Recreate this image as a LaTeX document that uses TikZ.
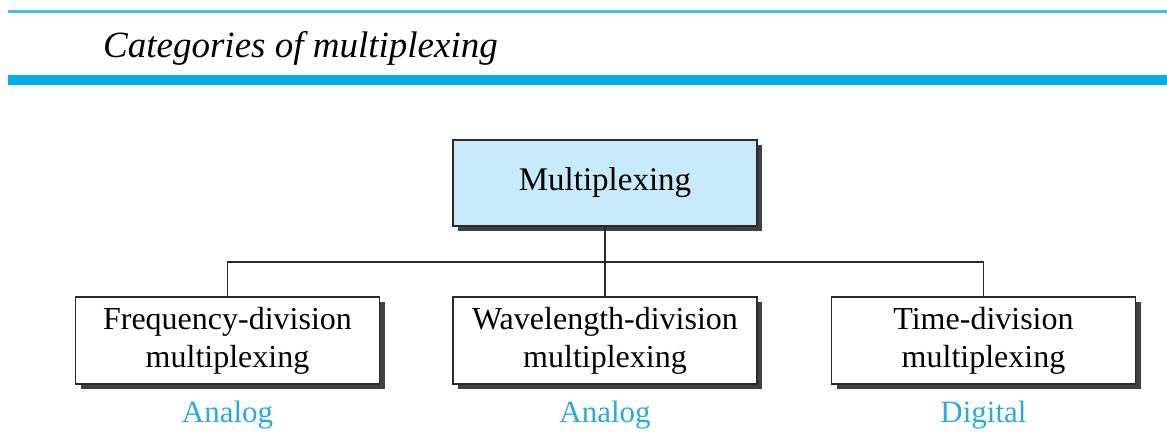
\documentclass[tikz,border=0pt]{standalone}
\usepackage{fontspec}
\setmainfont{Liberation Serif}
\usetikzlibrary{shadows}
\definecolor{rulecyan}{HTML}{00AEEF}
\definecolor{thincyan}{HTML}{3CC0F2}
\definecolor{boxblue}{HTML}{C9EAFB}
\definecolor{labelblue}{HTML}{29ABE2}
\definecolor{edge}{HTML}{2A2A2A}
\tikzset{
  catbox/.style={draw=edge, line width=1.6pt, fill=white,
    minimum width=304pt, minimum height=87pt, inner sep=0pt,
    align=center, font=\fontsize{32}{38}\selectfont,
    drop shadow={shadow xshift=5pt, shadow yshift=-5pt, fill=black!75, opacity=1}},
  rootbox/.style={catbox, fill=boxblue, minimum height=86pt,
    font=\fontsize{33}{38}\selectfont},
  kind/.style={anchor=base, text=labelblue, inner sep=0pt,
    font=\fontsize{31}{36}\selectfont},
  link/.style={draw=edge, line width=1.6pt}
}
\begin{document}
\begin{tikzpicture}[x=1pt, y=-1pt]
  \useasboundingbox (0,0) rectangle (1167,434);
  % header rules and title
  \fill[thincyan] (8,10) rectangle (1167,13);
  \fill[rulecyan] (8,75) rectangle (1167,84.5);
  \node[anchor=base west, inner sep=0pt, font=\fontsize{37}{42}\selectfont\itshape]
    (title) at (103,57) {Categories of multiplexing};

  % boxes of the tree
  \coordinate (bus) at (605,262);
  \node[rootbox] (root) at (605,183) {\raisebox{-2pt}{Multiplexing}};
  \node[catbox] (fdm) at (227.5,340.5) {Frequency-division\\multiplexing};
  \node[catbox] (wdm) at (605,340.5) {Wavelength-division\\multiplexing};
  \node[catbox] (tdm) at (983.5,340.5) {Time-division\\multiplexing};

  % tree connectors
  \draw[link] (root.south) -- (wdm.north);
  \draw[link] (fdm.north) -- (fdm.north |- bus) -- (tdm.north |- bus) -- (tdm.north);

  % signal kinds
  \node[kind] (fdmkind) at (227.5,422) {Analog};
  \node[kind] (wdmkind) at (605,422) {Analog};
  \node[kind] (tdmkind) at (983.5,422) {Digital};
\end{tikzpicture}
\end{document}
